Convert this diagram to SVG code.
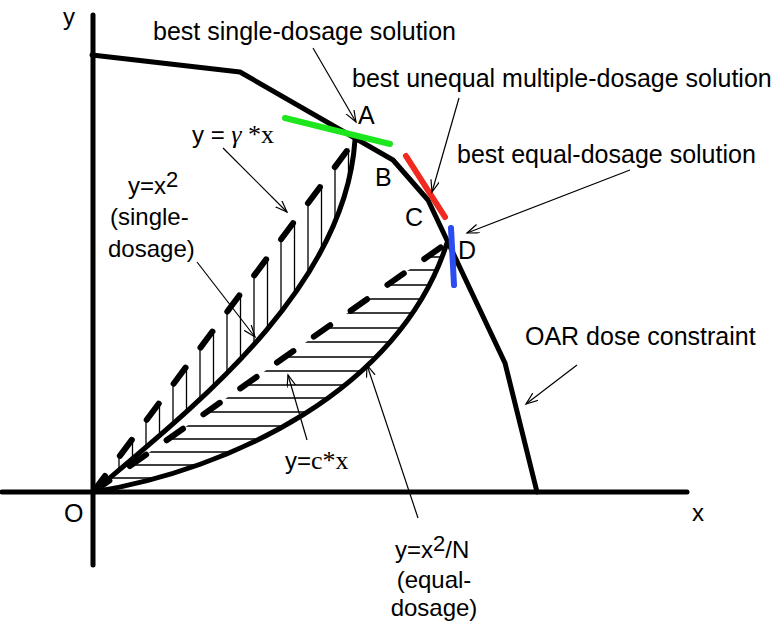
<svg xmlns="http://www.w3.org/2000/svg" width="780" height="624" viewBox="0 0 780 624">
<style>
.axis{stroke:#000;stroke-width:5;fill:none;stroke-linecap:round}
.thick{stroke:#000;stroke-width:5;fill:none;stroke-linejoin:round;stroke-linecap:round}
.dash{stroke:#000;stroke-width:6;fill:none;stroke-dasharray:20 25;stroke-linecap:round}
.hatch{stroke:#000;stroke-width:1.3;fill:none}
.conn{stroke:#000;stroke-width:1.2;fill:none;marker-end:url(#arr)}
.sans{font-family:"Liberation Sans",Arial,sans-serif;fill:#000}
.serif{font-family:"Liberation Serif","Times New Roman",serif}
.big{font-size:25px}
.mid{font-size:24px}
</style>
<defs>
<marker id="arr" markerUnits="userSpaceOnUse" markerWidth="14" markerHeight="10" refX="12" refY="4.5" orient="auto">
<path d="M0,0 L12,4.5 L0,9" fill="none" stroke="#000" stroke-width="1.2"/>
</marker>
<clipPath id="upperRegion"><path d="M93,492 L355,140 C345,290 190,410 93,492 Z"/></clipPath>
<clipPath id="lowerRegion"><path d="M93,492 L447,243 C400,390 230,470 93,492 Z"/></clipPath>
</defs>
<rect width="780" height="624" fill="#fff"/>

<g id="axes">
<line class="axis" x1="93" y1="15" x2="93" y2="565"/>
<line class="axis" x1="2" y1="492" x2="687" y2="492"/>
<text class="sans mid" x="63" y="25">y</text>
<text class="sans mid" x="692" y="521">x</text>
<text class="sans big" x="64" y="522">O</text>
</g>

<g id="constraint">
<polyline class="thick" points="92,55 240,72 393,160 428,200 505,363 537,492"/>
<text class="sans big" x="525" y="345">OAR dose constraint</text>
</g>

<g id="hatching">
<g clip-path="url(#upperRegion)">
<path class="hatch" d="M119,100V500M132.5,100V500M146,100V500M159.5,100V500M173,100V500M186.5,100V500M200,100V500M213.5,100V500M227,100V500M240.5,100V500M254,100V500M267.5,100V500M281,100V500M294.5,100V500M308,100V500M321.5,100V500M335,100V500M348.5,100V500"/>
</g>
<g clip-path="url(#lowerRegion)">
<path class="hatch" d="M90,478H460M90,465H460M90,452H460M90,439H460M90,426H460M90,412H460M90,398H460M90,385H460M90,371H460M90,357H460M90,342H460M90,328H460M90,313H460M90,299H460M90,285H460M90,270H460M90,257H460"/>
</g>
</g>

<g id="single-dosage-curves">
<line class="dash" x1="93" y1="492" x2="355" y2="140"/>
<path class="thick" d="M93,492 C190,410 345,290 355,140"/>
</g>

<g id="equal-dosage-curves">
<line class="dash" x1="93" y1="492" x2="447" y2="243"/>
<path class="thick" d="M93,492 C230,470 400,390 447,243"/>
</g>

<g id="point-A">
<line x1="285" y1="118" x2="390" y2="144" stroke="#1ee61e" stroke-width="6" stroke-linecap="round"/>
<text class="sans big" x="358" y="124">A</text>
</g>
<g id="point-B"><text class="sans big" x="375" y="186">B</text></g>
<g id="point-C">
<line x1="406" y1="156" x2="445" y2="217" stroke="#f02a1e" stroke-width="6" stroke-linecap="round"/>
<text class="sans big" x="405" y="226">C</text>
</g>
<g id="point-D">
<line x1="451" y1="228" x2="454" y2="285" stroke="#2a4cf0" stroke-width="6" stroke-linecap="round"/>
<text class="sans big" x="458" y="259">D</text>
</g>

<g id="label-single">
<text class="sans big" x="153" y="40">best single-dosage solution</text>
</g>
<g id="label-unequal">
<text class="sans big" x="352" y="87">best unequal multiple-dosage solution</text>
</g>
<g id="label-equal">
<text class="sans big" x="457" y="163">best equal-dosage solution</text>
</g>
<g id="label-gamma">
<text class="sans mid" x="192" y="143">y = <tspan class="serif" font-size="26" font-style="italic">γ</tspan><tspan class="serif" font-size="26"> *x</tspan></text>
</g>
<g id="label-x2">
<text class="sans mid" x="128" y="194">y=x<tspan font-size="22" dy="-7">2</tspan></text>
<text class="sans mid" x="110" y="225">(single-</text>
<text class="sans mid" x="108" y="257">dosage)</text>
</g>
<g id="label-c">
<text class="sans mid" x="285" y="469">y=<tspan class="serif" font-size="26">c*x</tspan></text>
</g>
<g id="label-x2N">
<text class="sans mid" x="395" y="558">y=x<tspan font-size="22" dy="-7">2</tspan><tspan dy="7">/N</tspan></text>
<text class="sans mid" x="434" y="588" text-anchor="middle">(equal-</text>
<text class="sans mid" x="434" y="616" text-anchor="middle">dosage)</text>
</g>

<g id="connectors">
<line class="conn" x1="313" y1="48" x2="356" y2="122"/>
<line class="conn" x1="459" y1="98" x2="432" y2="192"/>
<line class="conn" x1="630" y1="170" x2="467" y2="233"/>
<line class="conn" x1="577" y1="365" x2="526" y2="404"/>
<line class="conn" x1="223" y1="148" x2="287" y2="212"/>
<line class="conn" x1="197" y1="262" x2="255" y2="337"/>
<line class="conn" x1="307" y1="440" x2="288" y2="375"/>
<line class="conn" x1="418" y1="518" x2="367" y2="365"/>
</g>
</svg>
